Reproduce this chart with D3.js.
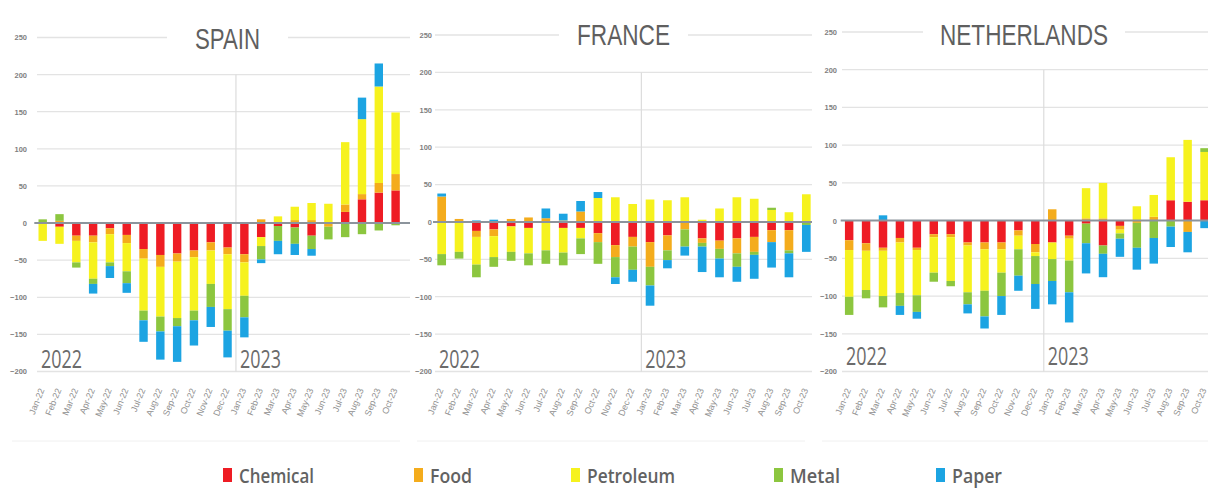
<!DOCTYPE html>
<html>
<head>
<meta charset="utf-8">
<script src="https://cdn.jsdelivr.net/npm/d3@7"></script>
<style>
  html, body { margin: 0; padding: 0; background: #fff; }
  svg { display: block; }
</style>
</head>
<body>
<svg id="chart" width="1208" height="488"></svg>
<script>
// ---------------- DATA ----------------
const seriesNames = ["Chemical", "Food", "Petroleum", "Metal", "Paper"];
const seriesColors = ["#ee1c24", "#f4ac1c", "#f6f21e", "#8cc63f", "#1ca4e2"];
const monthLabels = ["Jan-22","Feb-22","Mar-22","Apr-22","May-22","Jun-22","Jul-22","Aug-22","Sep-22","Oct-22","Nov-22","Dec-22",
                     "Jan-23","Feb-23","Mar-23","Apr-23","May-23","Jun-23","Jul-23","Aug-23","Sep-23","Oct-23"];
const yearLabels = ["2022", "2023"];
const yTicks = [250, 200, 150, 100, 50, 0, -50, -100, -150, -200];
const countryNames = ["SPAIN", "FRANCE", "NETHERLANDS"];

const spainChemical  = [0, -5, -17, -17, -7, -16, -35, -43, -41, -37, -26, -33, -42, -19, -4, -6, -17, 0, 15, 32, 41, 44];
const spainFood      = [0, 3, -7, -9, -8, -11, -13, -16, -11, -9, -11, -9, -11, 5, 0, 4, 4, -5, 10, 7, 13, 22];
const spainPetroleum = [-24, -23, -29, -49, -38, -38, -70, -67, -76, -72, -45, -74, -45, -12, 9, 18, 23, 26, 84, 101, 130, 83];
const spainMetal     = [5, 9, -7, -7, -5, -16, -13, -20, -11, -13, -31, -29, -29, -18, -20, -22, -18, -17, -19, -15, -10, -3];
const spainPaper     = [0, 0, 0, -13, -16, -13, -29, -38, -48, -34, -27, -36, -27, -5, -18, -15, -9, 0, 0, 29, 31, 0];

const franceChemical  = [0, 0, -12, -10, -6, -8, 0, -8, -8, -15, -31, -20, -27, -18, 0, -22, -25, -22, -20, -11, -11, 0];
const franceFood      = [34, 4, -8, -9, 4, 6, 5, 2, 14, -12, -16, -13, -33, -20, -10, -6, -11, -20, -20, -16, -27, 0];
const francePetroleum = [-43, -40, -37, -28, -34, -34, -38, -33, -14, 32, 33, 24, 30, 29, 33, 3, 18, 33, 31, 16, 13, 37];
const franceMetal     = [-15, -9, -17, -13, -12, -16, -18, -17, -21, -29, -27, -31, -25, -13, -23, -5, -13, -18, -4, 3, -4, -4];
const francePaper     = [4, 0, 2, 3, 0, 0, 13, 9, 14, 8, -9, -16, -27, -11, -12, -34, -25, -20, -32, -34, -32, -36];

const nlChemical  = [-26, -30, -36, -23, -36, -18, -18, -29, -29, -29, -13, -31, -29, -20, -4, -33, -7, 0, 0, 27, 25, 27];
const nlFood      = [-13, -10, -4, -6, -3, -4, -4, -4, -9, -9, -7, -11, 15, -4, 3, 3, -5, -3, 5, 0, -15, 0];
const nlPetroleum = [-62, -52, -60, -67, -60, -47, -58, -62, -55, -31, -18, -5, -22, -29, 40, 47, -5, 19, 29, 57, 82, 64];
const nlMetal     = [-24, -11, -15, -17, -22, -12, -7, -16, -34, -31, -35, -37, -29, -42, -26, -11, -7, -33, -23, -8, 0, 5];
const nlPaper     = [0, 0, 7, -12, -9, 0, 0, -12, -16, -25, -20, -33, -31, -40, -40, -31, -24, -29, -34, -27, -27, -10];

const countrySeries = [
  [spainChemical, spainFood, spainPetroleum, spainMetal, spainPaper],
  [franceChemical, franceFood, francePetroleum, franceMetal, francePaper],
  [nlChemical, nlFood, nlPetroleum, nlMetal, nlPaper]
];

// ---------------- LAYOUT ----------------
const panels = [
  { x0: 0,   left: 34.3, right: 404,  yTop: 37.5, gridL: 37,  gridR: 410,  titleX: 227.5, titleW: 65,  titleY: 49,  boxPad: 28, yearY: 368 },
  { x0: 405, left: 433,  right: 815,  yTop: 35,   gridL: 435, gridR: 812,  titleX: 623.5, titleW: 93,  titleY: 45,  boxPad: 18, yearY: 368 },
  { x0: 810, left: 840.7,right: 1213, yTop: 32,   gridL: 842, gridR: 1215, titleX: 1024,  titleW: 168, titleY: 45,  boxPad: 17, yearY: 365 }
];
const yBottom = 371.5;

const svg = d3.select("#chart");

panels.forEach((p, pi) => {
  const rows = monthLabels.map((m, i) => {
    const r = { month: m };
    seriesNames.forEach((s, si) => { r[s] = countrySeries[pi][si][i]; });
    return r;
  });

  const x = d3.scaleBand().domain(monthLabels).range([p.left, p.right]).paddingInner(0.5).paddingOuter(0.25);
  const y = d3.scaleLinear().domain([-200, 250]).range([yBottom, p.yTop]);
  const g = svg.append("g");

  // gridlines
  g.selectAll("line.grid").data(yTicks.filter(t => t !== 0)).join("line")
    .attr("x1", p.gridL).attr("x2", p.gridR)
    .attr("y1", d => y(d)).attr("y2", d => y(d))
    .attr("stroke", "#e3e3e3").attr("stroke-width", 1.3);

  // y tick labels
  const yAxis = d3.axisLeft(y).tickValues(yTicks).tickSize(0).tickPadding(0);
  const ya = g.append("g").attr("transform", `translate(${p.x0 + 27},0)`).call(yAxis);
  ya.select(".domain").remove();
  ya.selectAll("text").attr("font-family", "Liberation Sans, Arial, sans-serif")
    .attr("font-size", 7.5).attr("fill", "#7f7f7f").attr("font-weight", "bold");

  // year divider
  const divX = (x(monthLabels[11]) + x(monthLabels[12]) + x.bandwidth()) / 2;
  g.append("line").attr("x1", divX).attr("x2", divX).attr("y1", y(200)).attr("y2", y(-200))
    .attr("stroke", "#dcdcdc").attr("stroke-width", 1.2);

  // bars
  const stacked = d3.stack().keys(seriesNames).offset(d3.stackOffsetDiverging)(rows);
  g.selectAll("g.layer").data(stacked).join("g")
    .attr("fill", (d, i) => seriesColors[i])
    .selectAll("rect").data(d => d).join("rect")
    .attr("x", d => x(d.data.month))
    .attr("width", x.bandwidth())
    .attr("y", d => y(Math.max(d[0], d[1])))
    .attr("height", d => Math.abs(y(d[0]) - y(d[1])));

  // zero line
  g.append("line").attr("x1", p.left).attr("x2", p.gridR)
    .attr("y1", y(0)).attr("y2", y(0))
    .attr("stroke", "#8c949c").attr("stroke-width", 2);

  // x tick labels
  const xAxis = d3.axisBottom(x).tickSize(0).tickPadding(0);
  const xa = g.append("g").attr("transform", `translate(0,${yBottom + 16})`).call(xAxis);
  xa.select(".domain").remove();
  xa.selectAll("text")
    .attr("font-family", "Liberation Sans, Arial, sans-serif")
    .attr("font-size", 9).attr("fill", "#8f8f8f")
    .attr("text-anchor", "end")
    .attr("dx", "-0.15em")
    .attr("dy", "0.3em")
    .attr("transform", "rotate(-68)");

  // year labels
  const yearX = [p.gridL + 4, divX + 4];
  yearLabels.forEach((t, i) => {
    g.append("text").attr("x", yearX[i]).attr("y", p.yearY)
      .attr("font-family", "Open Sans, Liberation Sans, sans-serif")
      .attr("font-size", 25).attr("fill", "#6b6b6b")
      .attr("textLength", 41).attr("lengthAdjust", "spacingAndGlyphs")
      .text(t);
  });

  // title
  g.append("rect").attr("x", p.titleX - p.titleW / 2 - p.boxPad).attr("y", p.titleY - 24)
    .attr("width", p.titleW + 2 * p.boxPad).attr("height", 28).attr("fill", "#fff");
  g.append("text").attr("x", p.titleX - p.titleW / 2).attr("y", p.titleY)
    .attr("font-family", "Liberation Sans, Arial, sans-serif")
    .attr("font-size", 30).attr("fill", "#5f5f5f")
    .attr("textLength", p.titleW).attr("lengthAdjust", "spacingAndGlyphs")
    .text(countryNames[pi]);

  // faint panel bottom rule
  g.append("line").attr("x1", p.x0 + 12).attr("x2", p.x0 + 400).attr("y1", 441).attr("y2", 441)
    .attr("stroke", "#f0f0f0").attr("stroke-width", 1);
});

// ---------------- LEGEND ----------------
const legendSquareX = [223, 414, 571, 774, 936];
const legendTextW = [75, 42, 88, 50, 50];
const lg = svg.append("g");
seriesNames.forEach((s, i) => {
  lg.append("rect").attr("x", legendSquareX[i]).attr("y", 468).attr("width", 9).attr("height", 14)
    .attr("fill", seriesColors[i]);
  lg.append("text").attr("x", legendSquareX[i] + 16).attr("y", 483)
    .attr("font-family", "Open Sans, Liberation Sans, sans-serif")
    .attr("font-weight", 600)
    .attr("font-size", 20).attr("fill", "#626262")
    .attr("textLength", legendTextW[i]).attr("lengthAdjust", "spacingAndGlyphs")
    .text(s);
});
</script>
</body>
</html>
